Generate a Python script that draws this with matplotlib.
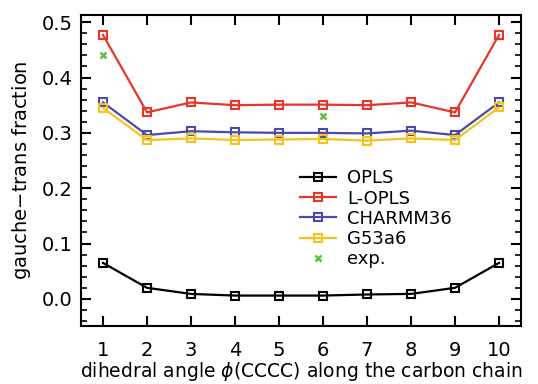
import matplotlib
matplotlib.use("Agg")
import matplotlib.pyplot as plt
from matplotlib.ticker import MultipleLocator

x = [1, 2, 3, 4, 5, 6, 7, 8, 9, 10]
opls = [0.065, 0.020, 0.009, 0.006, 0.006, 0.006, 0.008, 0.009, 0.020, 0.065]
lopls = [0.477, 0.337, 0.355, 0.350, 0.351, 0.351, 0.350, 0.355, 0.337, 0.477]
charmm = [0.355, 0.296, 0.303, 0.301, 0.300, 0.300, 0.299, 0.304, 0.296, 0.355]
g53a6 = [0.345, 0.287, 0.290, 0.287, 0.288, 0.289, 0.286, 0.290, 0.287, 0.346]
exp_x = [1, 6]
exp_y = [0.44, 0.33]

fig = plt.figure(figsize=(5.38, 3.84), dpi=100)
ax = fig.add_axes([0.1506, 0.151, 0.8178, 0.810])

kw = dict(marker='s', markerfacecolor='none', markersize=5.5, markeredgewidth=1.5, linewidth=1.6)
ax.plot(x, opls, color='black', label='OPLS', **kw)
ax.plot(x, lopls, color='#e8352a', label='L-OPLS', **kw)
ax.plot(x, charmm, color='#4b4aa8', label='CHARMM36', **kw)
ax.plot(x, g53a6, color='#f5c41a', label='G53a6', **kw)
ax.plot(exp_x, exp_y, linestyle='none', marker='x', color='#5fbf4a', markersize=5,
        markeredgewidth=1.8, label='exp.')

ax.set_xlim(0.5, 10.5)
ax.set_ylim(-0.049, 0.513)
ax.set_xticks(x)
ax.yaxis.set_major_locator(MultipleLocator(0.1))
ax.yaxis.set_minor_locator(MultipleLocator(0.02))
ax.tick_params(axis='both', which='both', direction='in', top=True, right=True, labelsize=14)
ax.tick_params(which='major', length=7, width=1.5)
ax.tick_params(which='minor', length=4, width=1.2)
ax.tick_params(axis='x', pad=11)
ax.tick_params(axis='y', pad=6)
for s in ax.spines.values():
    s.set_linewidth(1.5)
ax.set_yticks([0.0, 0.1, 0.2, 0.3, 0.4, 0.5])
ax.set_yticklabels(['0.0', '0.1', '0.2', '0.3', '0.4', '0.5'])

ax.set_xlabel('dihedral angle $\\phi$(CCCC) along the carbon chain', fontsize=13.5, labelpad=0)
ax.set_ylabel('gauche$-$trans fraction', fontsize=14, labelpad=6)

ax.legend(loc='center', bbox_to_anchor=(0.67, 0.345), frameon=False, fontsize=13,
          handlelength=2.0, handletextpad=0.6, labelspacing=0.12)

fig.savefig('out.png', dpi=100)
